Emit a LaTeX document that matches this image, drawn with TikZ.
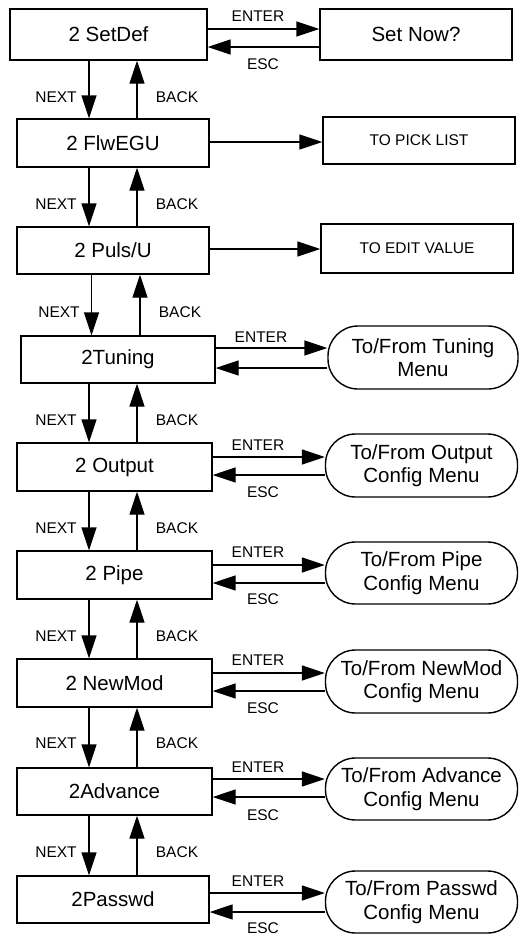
\documentclass[tikz,border=0pt]{standalone}
\usepackage{fontspec}
\setmainfont{Liberation Sans}
\usetikzlibrary{arrows.meta}
\newcommand{\bigf}{\fontsize{20.5}{23.5}\selectfont}
\newcommand{\smallf}{\fontsize{15.5}{18}\selectfont}
\tikzset{
  bx/.style n args={2}{draw, line width=1.4pt, minimum width=#1pt, minimum height=#2pt, inner sep=0pt, font=\bigf},
  sbx/.style n args={2}{draw, line width=1.4pt, minimum width=#1pt, minimum height=#2pt, inner sep=0pt, font=\smallf},
  stad/.style n args={2}{draw, line width=1.4pt, rounded corners=30pt, minimum width=#1pt, minimum height=#2pt, inner sep=0pt, align=center, font=\bigf},
  arr/.style={-{Triangle[length=23pt,width=15pt]}, line width=1.4pt},
  lbl/.style={font=\smallf, inner sep=0pt},
}
\begin{document}
\begin{tikzpicture}[x=1pt,y=-1pt]
\useasboundingbox (0,0) rectangle (519,935);
% left column
\node[bx={197}{51}] (setdef) at (108.5,34.5) {2 SetDef};
\node[bx={192}{48}] (flw) at (113,143) {2 FlwEGU};
\node[bx={192}{47}] (puls) at (113,250.5) {2 Puls/U};
\node[bx={194}{47}] (tun) at (118,359.5) {2Tuning};
\node[bx={195}{48}] (out) at (114.5,467) {2 Output};
\node[bx={195}{48}] (pipe) at (114.5,575) {2 Pipe};
\node[bx={195}{48}] (newmod) at (114.5,683) {2 NewMod};
\node[bx={195}{47}] (adv) at (114.5,791.5) {2Advance};
\node[bx={192}{47}] (pass) at (113,899.5) {2Passwd};
% right column
\node[bx={192}{51}] (setnow) at (416,34.5) {Set Now?};
\node[sbx={192}{47}] (pick) at (419,140.5) {TO PICK LIST};
\node[sbx={192}{49}] (edit) at (417,248.5) {TO EDIT VALUE};
\node[stad={190}{63}] (tunR) at (423,357.5) {To/From Tuning\\Menu};
\node[stad={192}{63}] (outR) at (421.5,465.5) {To/From Output\\Config Menu};
\node[stad={192}{62}] (pipeR) at (421.5,573) {To/From Pipe\\Config Menu};
\node[stad={192}{63}] (newmodR) at (421.5,681.5) {To/From NewMod\\Config Menu};
\node[stad={192}{62}] (advR) at (421.5,789) {To/From Advance\\Config Menu};
\node[stad={192}{62}] (passR) at (421.5,902) {To/From Passwd\\Config Menu};
% vertical columns
\coordinate (nx) at (89,0);
\coordinate (bk) at (137,0);
\coordinate (nx2) at (91.5,0);
\coordinate (bk2) at (140,0);
% NEXT / BACK arrows
\draw[arr] (setdef.south -| nx) -- (flw.north -| nx);
\draw[arr] (flw.north -| bk) -- (setdef.south -| bk);
\node[lbl] (n1) at (56,97) {NEXT};
\node[lbl] (b1) at (177,97) {BACK};
\draw[arr] (flw.south -| nx) -- (puls.north -| nx);
\draw[arr] (puls.north -| bk) -- (flw.south -| bk);
\node[lbl] (n2) at (56,204) {NEXT};
\node[lbl] (b2) at (177,204) {BACK};
\draw[arr] (puls.south -| nx2) -- (tun.north -| nx2);
\draw[arr] (tun.north -| bk2) -- (puls.south -| bk2);
\node[lbl] (n3) at (59,312) {NEXT};
\node[lbl] (b3) at (180,312) {BACK};
\draw[arr] (tun.south -| nx) -- (out.north -| nx);
\draw[arr] (out.north -| bk) -- (tun.south -| bk);
\node[lbl] (n4) at (56,420) {NEXT};
\node[lbl] (b4) at (177,420) {BACK};
\draw[arr] (out.south -| nx) -- (pipe.north -| nx);
\draw[arr] (pipe.north -| bk) -- (out.south -| bk);
\node[lbl] (n5) at (56,528) {NEXT};
\node[lbl] (b5) at (177,528) {BACK};
\draw[arr] (pipe.south -| nx) -- (newmod.north -| nx);
\draw[arr] (newmod.north -| bk) -- (pipe.south -| bk);
\node[lbl] (n6) at (56,636) {NEXT};
\node[lbl] (b6) at (177,636) {BACK};
\draw[arr] (newmod.south -| nx) -- (adv.north -| nx);
\draw[arr] (adv.north -| bk) -- (newmod.south -| bk);
\node[lbl] (n7) at (56,743) {NEXT};
\node[lbl] (b7) at (177,743) {BACK};
\draw[arr] (adv.south -| nx) -- (pass.north -| nx);
\draw[arr] (pass.north -| bk) -- (adv.south -| bk);
\node[lbl] (n8) at (56,852) {NEXT};
\node[lbl] (b8) at (177,852) {BACK};
% horizontal arrows
\draw[arr] (setdef.east |- 0,29) -- (setnow.west |- 0,29);
\draw[arr] (setnow.west |- 0,47) -- (setdef.east |- 0,47);
\node[lbl] (e1) at (258,16) {ENTER};
\node[lbl] (s1) at (263,64) {ESC};
\draw[arr] (flw.east |- 0,142) -- (pick.west |- 0,142);
\draw[arr] (puls.east |- 0,249) -- (edit.west |- 0,249);
\draw[arr] (tun.east |- 0,348) -- (tunR.west |- 0,348);
\draw[arr] (tunR.west |- 0,368) -- (tun.east |- 0,368);
\node[lbl] (e2) at (261,337) {ENTER};
\draw[arr] (out.east |- 0,457) -- (outR.west |- 0,457);
\draw[arr] (outR.west |- 0,475) -- (out.east |- 0,475);
\node[lbl] (e3) at (258,445) {ENTER};
\node[lbl] (s3) at (263,492) {ESC};
\draw[arr] (pipe.east |- 0,565) -- (pipeR.west |- 0,565);
\draw[arr] (pipeR.west |- 0,583) -- (pipe.east |- 0,583);
\node[lbl] (e4) at (258,552) {ENTER};
\node[lbl] (s4) at (263,599) {ESC};
\draw[arr] (newmod.east |- 0,673) -- (newmodR.west |- 0,673);
\draw[arr] (newmodR.west |- 0,691) -- (newmod.east |- 0,691);
\node[lbl] (e5) at (258,660) {ENTER};
\node[lbl] (s5) at (263,708) {ESC};
\draw[arr] (adv.east |- 0,779) -- (advR.west |- 0,779);
\draw[arr] (advR.west |- 0,797) -- (adv.east |- 0,797);
\node[lbl] (e6) at (258,767) {ENTER};
\node[lbl] (s6) at (263,815) {ESC};
\draw[arr] (pass.east |- 0,893) -- (passR.west |- 0,893);
\draw[arr] (passR.west |- 0,912) -- (pass.east |- 0,912);
\node[lbl] (e7) at (258,881) {ENTER};
\node[lbl] (s7) at (263,928) {ESC};
\end{tikzpicture}
\end{document}
